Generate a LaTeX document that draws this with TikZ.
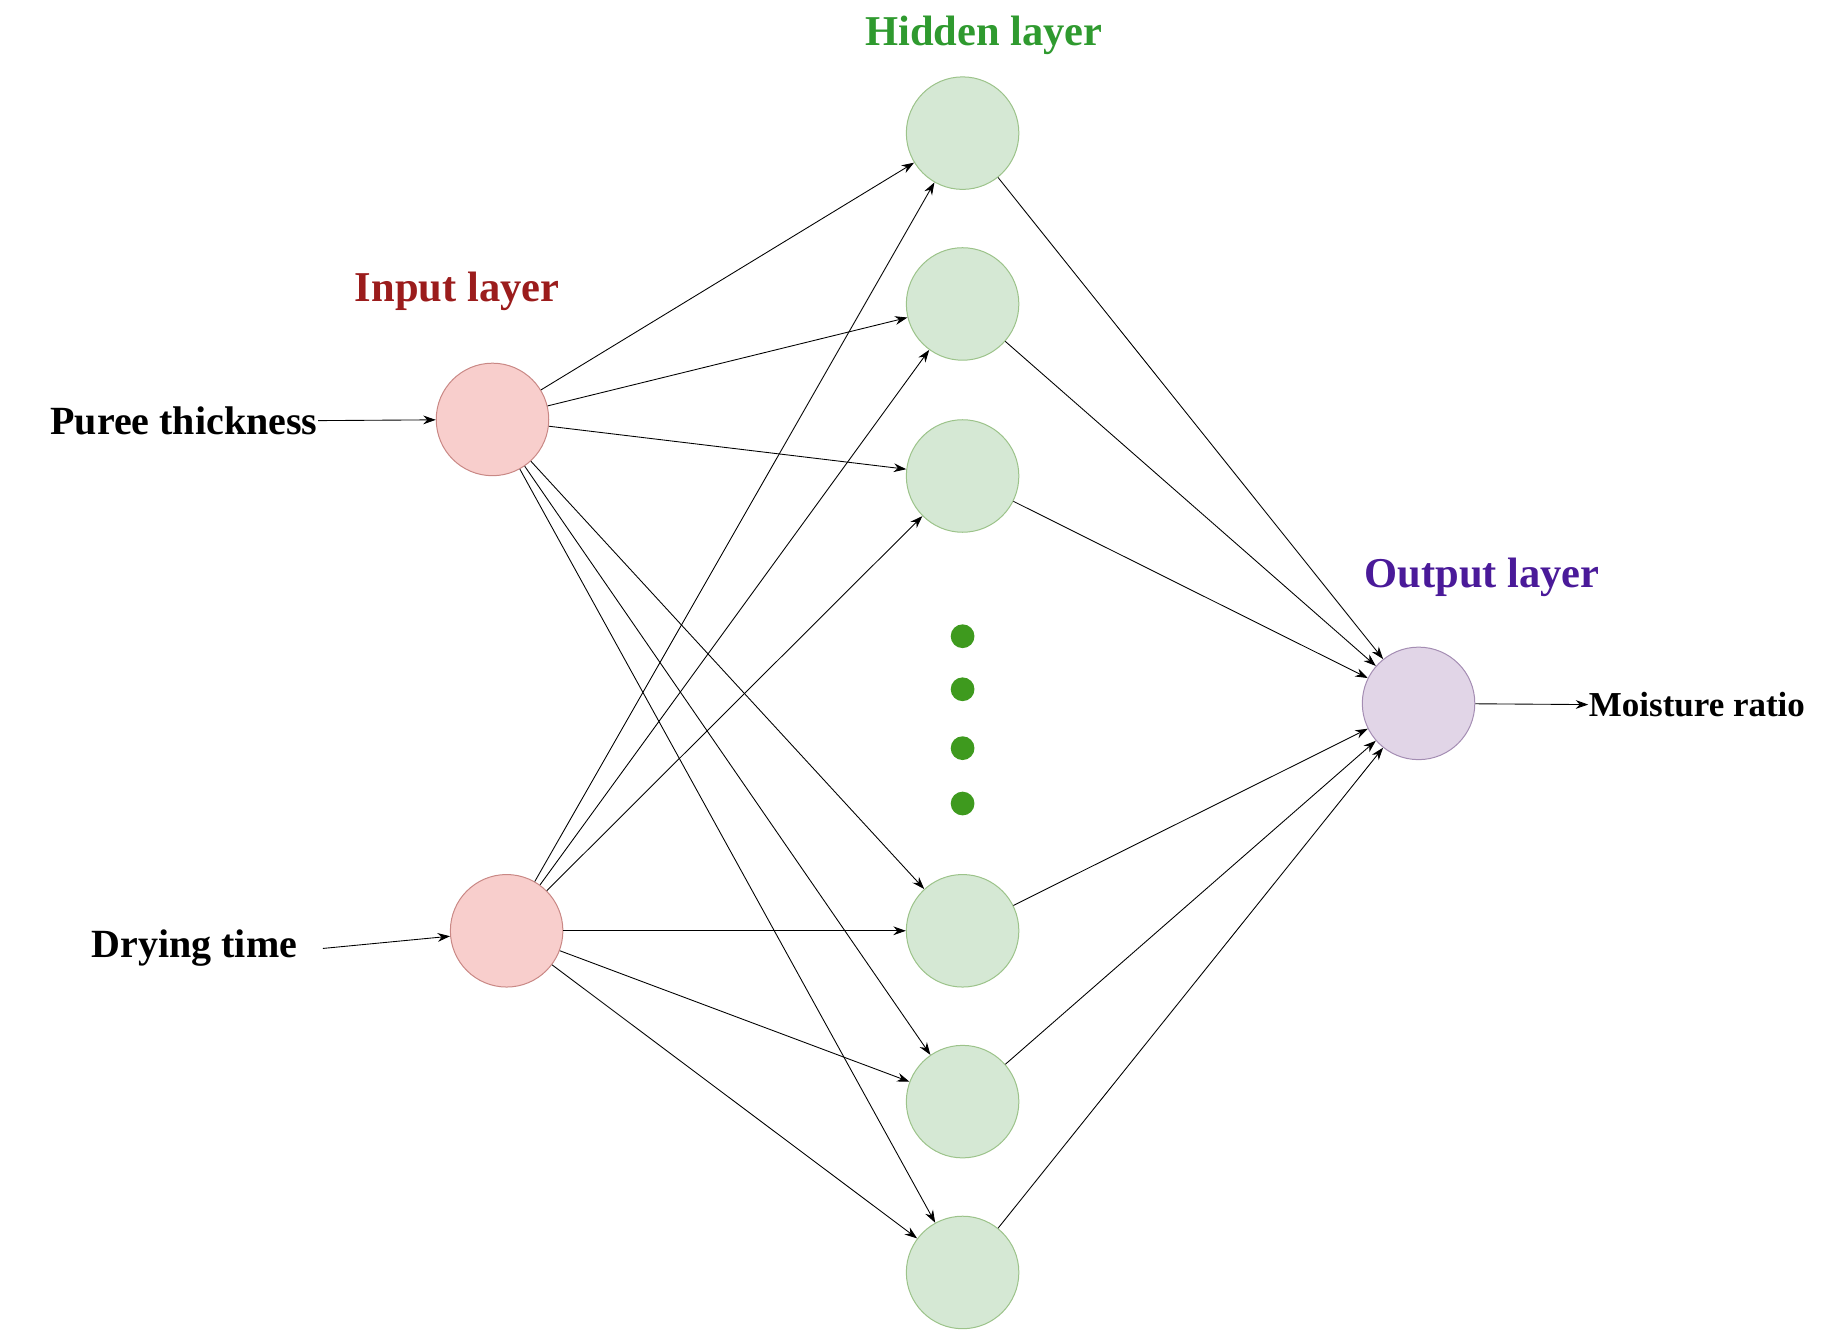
\documentclass[tikz,border=0pt]{standalone}
\usepackage{fontspec}
\setmainfont{Liberation Serif}
\usetikzlibrary{arrows.meta}
\definecolor{inFill}{HTML}{F8CECC}
\definecolor{inLine}{HTML}{C98885}
\definecolor{hidFill}{HTML}{D5E8D4}
\definecolor{hidLine}{HTML}{9CC38A}
\definecolor{outFill}{HTML}{E1D5E7}
\definecolor{outLine}{HTML}{A48DB3}
\definecolor{inText}{HTML}{9B1C1C}
\definecolor{hidText}{HTML}{2F9A2F}
\definecolor{outText}{HTML}{4A1A99}
\definecolor{dotGreen}{HTML}{3E9A1E}
\tikzset{every picture/.style={line width=0.5pt}}
\tikzset{
  neuron/.style={circle,minimum size=45pt,inner sep=0pt,line width=0.4pt},
  inneuron/.style={neuron,fill=inFill,draw=inLine},
  hidneuron/.style={neuron,fill=hidFill,draw=hidLine},
  outneuron/.style={neuron,fill=outFill,draw=outLine},
  layerlabel/.style={font=\fontsize{17}{20}\selectfont\bfseries},
  feat/.style={font=\fontsize{16}{19}\selectfont\bfseries},
  link/.style={-{Stealth[length=5pt,width=3.5pt]},line width=0.35pt},
}
\begin{document}
\begin{tikzpicture}[x=0.4712pt,y=0.4712pt,yscale=-1,xscale=1]
    \useasboundingbox (0,0) rectangle (1560,1137);

    % input layer
    \node [inneuron] (in1) at (418,356) {};
    \node [inneuron] (in2) at (430,790) {};
    % hidden layer
    \foreach \y [count=\i] in {113,258,404,790,935,1080}
        \node [hidneuron] (h\i) at (817,\y) {};
    \foreach \y [count=\i] in {540,585,635,682}
        \node [circle,fill=dotGreen,minimum size=9.5pt,inner sep=0pt] (dot\i) at (817,\y) {};
    % output layer
    \node [outneuron] (out) at (1204,597) {};

    % labels
    \node [layerlabel,text=inText] (inlab) at (388,247) {Input layer};
    \node [layerlabel,text=hidText] (hidlab) at (835,30) {Hidden layer};
    \node [layerlabel,text=outText] (outlab) at (1258,490) {Output layer};
    \node [feat,anchor=east,inner sep=0pt] (puree) at (270,357) {Puree thickness};
    \node [feat,inner sep=0pt] (dry) at (165,805) {Drying time};
    \node [font=\fontsize{14}{17}\selectfont\bfseries,anchor=west,inner sep=0pt] (mr) at (1348,598) {Moisture ratio};

    % connections
    \draw [link] (puree.east) -- (in1);
    \draw [link] ([xshift=10pt]dry.east) -- (in2);
    \foreach \i in {1,...,6} {
        \draw [link] (in1) -- (h\i);
        \draw [link] (in2) -- (h\i);
        \draw [link] (h\i) -- (out);
    }
    \draw [link] (out) -- (mr.west);

\end{tikzpicture}
\end{document}
